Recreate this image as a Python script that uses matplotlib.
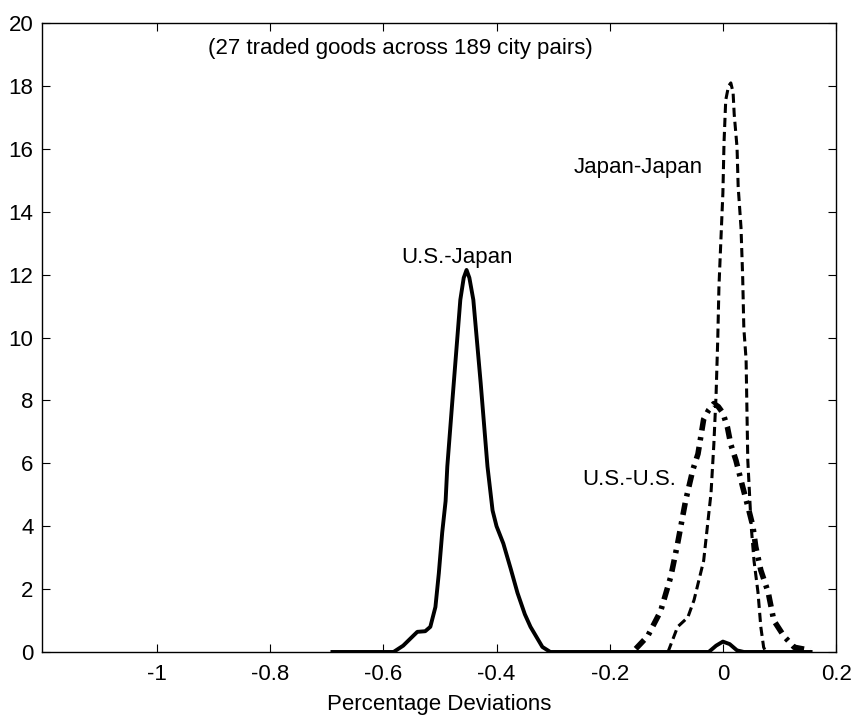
import matplotlib
matplotlib.use("Agg")
from matplotlib import pyplot as plt

# U.S.-Japan (solid)
usjp_x = [-0.69, -0.582, -0.565, -0.548, -0.54, -0.526, -0.517, -0.508, -0.502, -0.496, -0.49,
          -0.487, -0.478, -0.464, -0.458, -0.453, -0.448, -0.441, -0.428, -0.416, -0.407, -0.4,
          -0.388, -0.375, -0.363, -0.35, -0.34, -0.319, -0.305, -0.025, -0.012, 0.0, 0.012,
          0.025, 0.037, 0.155]
usjp_y = [0, 0, 0.2, 0.5, 0.64, 0.66, 0.8, 1.43, 2.5, 3.8, 4.8,
          5.9, 8.0, 11.2, 11.9, 12.15, 11.9, 11.2, 8.55, 5.9, 4.5, 4.0,
          3.45, 2.65, 1.88, 1.2, 0.8, 0.16, 0, 0, 0.2, 0.33, 0.25,
          0.05, 0, 0]

# Japan-Japan (dashed)
jpjp_x = [-0.097, -0.08, -0.062, -0.051, -0.034, -0.021, -0.016, -0.012, -0.009, -0.007, -0.004,
          0.0, 0.002, 0.005, 0.01, 0.014, 0.018, 0.02, 0.025, 0.027, 0.032, 0.035, 0.037, 0.041,
          0.044, 0.05, 0.055, 0.062, 0.067, 0.072, 0.076]
jpjp_y = [0, 0.8, 1.1, 1.65, 2.9, 5.05, 6.6, 8.2, 10.0, 11.6, 12.9,
          14.6, 16.2, 17.55, 18.0, 18.1, 17.8, 17.1, 16.05, 14.8, 13.5, 11.9, 10.3, 9.3,
          6.1, 4.0, 2.9, 1.9, 0.8, 0.15, 0]

# U.S.-U.S. (dash-dot)
usus_x = [-0.154, -0.133, -0.11, -0.092, -0.08, -0.066, -0.053, -0.044, -0.034, -0.025, -0.016,
          -0.008, 0.0, 0.008, 0.014, 0.023, 0.035, 0.046, 0.053, 0.058, 0.067, 0.08, 0.09,
          0.108, 0.126, 0.155]
usus_y = [0.1, 0.5, 1.3, 2.4, 3.45, 4.8, 5.8, 6.3, 7.4, 7.7, 7.9,
          7.8, 7.6, 7.15, 6.6, 6.1, 5.25, 4.5, 4.0, 3.35, 2.6, 1.9, 1.0,
          0.5, 0.15, 0.05]

xticks = [-1, -0.8, -0.6, -0.4, -0.2, 0, 0.2]
xtick_labels = ["-1", "-0.8", "-0.6", "-0.4", "-0.2", "0", "0.2"]
yticks = list(range(0, 21, 2))

plt.rcParams['font.family'] = ['Liberation Sans', 'DejaVu Sans']
plt.rcParams['font.size'] = 16

fig = plt.figure(figsize=(8.54, 7.17), dpi=100)
ax = fig.add_axes([0.049, 0.0907, 0.93, 0.877])

ax.plot(usjp_x, usjp_y, color='black', lw=2.8, ls='-', solid_joinstyle='round')
ax.plot(jpjp_x, jpjp_y, color='black', lw=2.2, ls=(0, (3, 1.6)))
ax.plot(usus_x, usus_y, color='black', lw=4.0, ls=(0, (2.2, 1.2, 0.6, 1.2)))

ax.set_xlim(-1.2035, 0.2)
ax.set_ylim(0, 20)
ax.set_xticks(xticks)
ax.set_xticklabels(xtick_labels)
ax.set_yticks(yticks)
ax.tick_params(direction='in', top=True, right=True, length=6, width=0.8, pad=9)
ax.tick_params(axis='y', pad=6)
for s in ax.spines.values():
    s.set_linewidth(1.0)

ax.text(-0.57, 19.2, "(27 traded goods across 189 city pairs)", ha='center', va='center')
ax.text(-0.15, 15.4, "Japan-Japan", ha='center', va='center')
ax.text(-0.47, 12.56, "U.S.-Japan", ha='center', va='center')
ax.text(-0.166, 5.47, "U.S.-U.S.", ha='center', va='center')
ax.set_xlabel("Percentage Deviations", labelpad=6)

fig.savefig("out.png", dpi=100)
